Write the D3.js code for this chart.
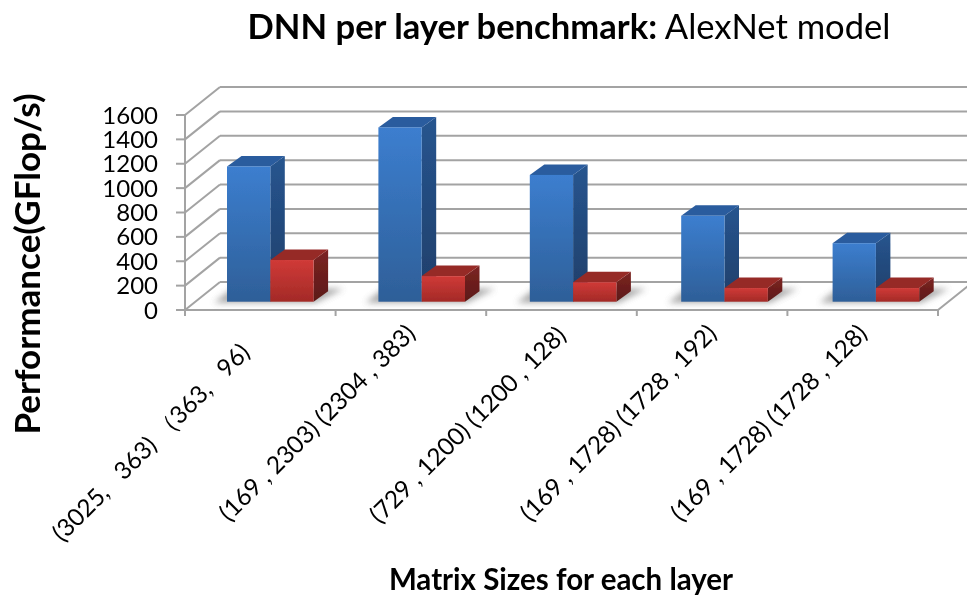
<!DOCTYPE html>
<html>
<head>
<meta charset="utf-8">
<script src="https://cdn.jsdelivr.net/npm/d3@7"></script>
<style>
html,body{margin:0;padding:0;background:#fff}
text{font-family:Lato,"Open Sans",sans-serif;fill:#000;white-space:pre}
</style>
</head>
<body>
<svg id="c" width="967" height="596" viewBox="0 0 967 596"></svg>
<script>
const categories = ["(3025,   363) （363,   96)","(169 , 2303) (2304 , 383)","(729 , 1200) (1200 , 128)","(169 , 1728) (1728 , 192)","(169 , 1728) (1728 , 128)"];
const seriesA = [1110, 1430, 1040, 705, 480];
const seriesB = [342, 210, 160, 112, 112];
const yTicks = [0,200,400,600,800,1000,1200,1400,1600];
const titleBold = "DNN per layer benchmark:";
const titleRegular = " AlexNet model";
const yTitle = "Performance(GFlop/s)";
const xTitle = "Matrix Sizes for each layer";

const svg = d3.select("#c");
const defs = svg.append("defs");
function grad(id, top, bottom){
  const g = defs.append("linearGradient").attr("id",id).attr("x1",0).attr("y1",0).attr("x2",0).attr("y2",1);
  g.append("stop").attr("offset","0%").attr("stop-color",top);
  g.append("stop").attr("offset","100%").attr("stop-color",bottom);
}
grad("blueF","#3c7ecf","#2e5f98");
grad("blueS","#27558f","#1e3e69");
grad("redF","#d03a37","#a32a27");
grad("redS","#7c2422","#5c1918");
defs.append("filter").attr("id","shadow").attr("x","-30%").attr("y","-80%").attr("width","160%").attr("height","260%")
  .append("feGaussianBlur").attr("stdDeviation",3);
defs.append("filter").attr("id","soft").attr("x","-5%").attr("y","-5%").attr("width","110%").attr("height","110%")
  .append("feGaussianBlur").attr("stdDeviation",0.45);
defs.append("clipPath").attr("id","page").append("rect").attr("width",967).attr("height",596);

const x0 = 185, x1 = 938, y0 = 310, yTop = 115;
const wallDx = 35, wallDy = -28;
const y = d3.scaleLinear().domain([0,1600]).range([y0,yTop]);
const xAxis = d3.scaleLinear().domain([0,categories.length]).range([x0,x1]);
const xBand = d3.scaleBand().domain(d3.range(categories.length)).range([x0,x0+151.4*5]);
const barW = 43.3, barOff = 42, baseDy = -8.3, depthX = 14.5, depthY = -10.5;

const root = svg.append("g").attr("filter","url(#soft)").attr("clip-path","url(#page)");
const lineCol = "#a3a3a3";
const ln = (g,a,b,c,d)=>g.append("line").attr("x1",a).attr("y1",b).attr("x2",c).attr("y2",d).attr("stroke",lineCol).attr("stroke-width",2);

// walls and grid
const grid = root.append("g");
yTicks.forEach(t=>{
  const yy = y(t);
  ln(grid,x0+wallDx,yy+wallDy,967,yy+wallDy);
  ln(grid,x0,yy,x0+wallDx,yy+wallDy);
  ln(grid,176,yy,x0,yy);
});
ln(grid,x0,yTop,x0,y0+6);
ln(grid,x0,y0,x1,y0);
ln(grid,x1,y0,x1+wallDx,y0+wallDy);
d3.range(categories.length+1).forEach(i=>ln(grid,xAxis(i),y0,xAxis(i),y0+6));

// bars
function bar(g,xl,v,f,s,topCol){
  const yb = y(0)+baseDy, yt = y(v)+baseDy, xr = xl+barW;
  g.append("polygon").attr("points",[[xr,yt],[xr+depthX,yt+depthY],[xr+depthX,yb+depthY],[xr,yb]].join(" ")).attr("fill",`url(#${s})`);
  g.append("polygon").attr("points",[[xl,yt],[xl+depthX,yt+depthY],[xr+depthX,yt+depthY],[xr,yt]].join(" ")).attr("fill",topCol);
  g.append("rect").attr("x",xl).attr("y",yt).attr("width",barW).attr("height",yb-yt).attr("fill",`url(#${f})`);
}
categories.forEach((c,i)=>{
  const g = root.append("g");
  const bx = xBand(i)+barOff, yb = y(0)+baseDy;
  g.append("polygon")
    .attr("points",[[bx-13,yb+1],[bx+2*barW+2,yb+1],[bx+2*barW+30,yb-13],[bx+5,yb-13]].join(" "))
    .attr("fill","#7a7a7a").attr("opacity",0.65).attr("filter","url(#shadow)");
  bar(g,bx,seriesA[i],"blueF","blueS","#2a5c9e");
  bar(g,bx+barW,seriesB[i],"redF","redS","#962b28");
});

// tick labels
const texts = root.append("g");
texts.selectAll("text.y").data(yTicks).join("text").attr("class","y")
  .attr("x",158).attr("y",d=>y(d)+8.5).attr("text-anchor","end").attr("font-size",24).text(d=>d);

categories.forEach((c,i)=>{
  const anchorX = xAxis(i) + 75.3 + [-9,6,6,6,6][i];
  const anchorY = y0 + [44,25,27,25,25][i];
  texts.append("text").attr("text-anchor","end").attr("font-size",24.3)
    .attr("transform",`translate(${anchorX},${anchorY}) rotate(-45)`).text(c);
});

// titles
const tt = texts.append("text").attr("x",569).attr("y",39).attr("text-anchor","middle").attr("font-size",34.6);
tt.append("tspan").attr("font-weight",700).text(titleBold);
tt.append("tspan").text(titleRegular);
texts.append("text").attr("transform","translate(40,264) rotate(-90)").attr("text-anchor","middle").attr("font-size",35).attr("font-weight",700).text(yTitle);
texts.append("text").attr("x",561).attr("y",590).attr("text-anchor","middle").attr("font-size",29.5).attr("font-weight",700).text(xTitle);
</script>
</body>
</html>
